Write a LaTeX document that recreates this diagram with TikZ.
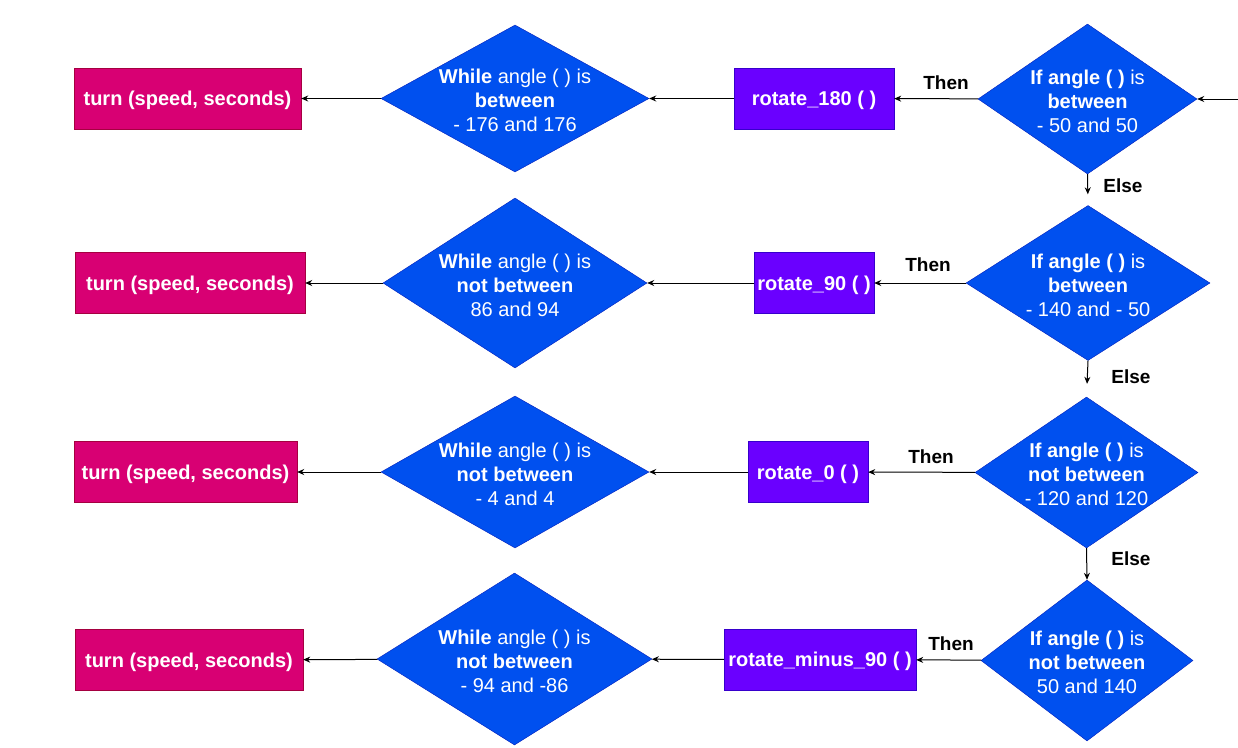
\documentclass[tikz,border=0pt]{standalone}
\usepackage{fontspec}
\setmainfont{Liberation Sans}
\usetikzlibrary{shapes.geometric,arrows.meta}
\definecolor{ifblue}{HTML}{0050EF}
\definecolor{ifline}{HTML}{001DBC}
\definecolor{rotpurple}{HTML}{6A00FF}
\definecolor{rotline}{HTML}{3700CC}
\definecolor{turnpink}{HTML}{D80073}
\definecolor{turnline}{HTML}{A50040}
\tikzset{
  condtext/.style={text=white,align=center,yshift=-2pt,font=\fontsize{20}{24}\selectfont},
  cond/.style={diamond,draw=ifline,fill=ifblue,inner sep=0pt,label={[condtext]center:{#1}}},
  rotbox/.style={rectangle,draw=rotline,fill=rotpurple,text=white,text height=18.5pt,text depth=4.2pt,
    font=\fontsize{20}{24}\selectfont\bfseries,minimum height=61pt},
  turnbox/.style={rectangle,draw=turnline,fill=turnpink,text=white,text height=18.5pt,text depth=4.2pt,
    font=\fontsize{20}{24}\selectfont\bfseries,minimum height=61pt},
  flow/.style={draw,line width=1pt,-{Stealth[length=7pt,width=6pt]}},
  tag/.style={font=\fontsize{19}{22}\selectfont\bfseries}
}
\begin{document}
\begin{tikzpicture}[x=1pt,y=-1pt]
    \useasboundingbox (0,0) rectangle (1238,747);
    % row 1
    \node[turnbox,minimum width=227pt](turn1) at (187.5,98.5){turn (speed, seconds)};
    \node[cond={\textbf{While} angle ( ) is\\\textbf{between}\\- 176 and 176},
      minimum width=268pt,minimum height=147pt](while1) at (515,98.5){};
    \node[rotbox,minimum width=160pt](rot1) at (814,98.5){rotate\_180 ( )};
    \node[cond={\textbf{If angle ( )} is\\\textbf{between}\\- 50 and 50},
      minimum width=219pt,minimum height=150pt](if1) at (1087.5,99){};
    % row 2
    \node[turnbox,minimum width=230pt](turn2) at (190,283){turn (speed, seconds)};
    \node[cond={\textbf{While} angle ( ) is\\\textbf{not between}\\86 and 94},
      minimum width=264pt,minimum height=170pt](while2) at (515,283){};
    \node[rotbox,minimum width=120pt](rot2) at (814,283){rotate\_90 ( )};
    \node[cond={\textbf{If angle ( )} is\\\textbf{between}\\- 140 and - 50},
      minimum width=244pt,minimum height=155pt](if2) at (1088,283){};
    % row 3
    \node[turnbox,minimum width=223pt](turn3) at (185.5,472){turn (speed, seconds)};
    \node[cond={\textbf{While} angle ( ) is\\\textbf{not between}\\- 4 and 4},
      minimum width=268pt,minimum height=152pt](while3) at (515,472){};
    \node[rotbox,minimum width=120pt](rot3) at (808,472){rotate\_0 ( )};
    \node[cond={\textbf{If angle ( )} is\\\textbf{not between}\\- 120 and 120},
      minimum width=223pt,minimum height=151pt](if3) at (1086.5,472.5){};
    % row 4
    \node[turnbox,minimum width=228pt](turn4) at (189,660){turn (speed, seconds)};
    \node[cond={\textbf{While} angle ( ) is\\\textbf{not between}\\- 94 and -86},
      minimum width=275pt,minimum height=172pt](while4) at (514.5,659){};
    \node[rotbox,minimum width=192pt](rot4) at (820,659.5){rotate\_minus\_90 ( )};
    \node[cond={\textbf{If angle ( )} is\\\textbf{not between}\\50 and 140},
      minimum width=212pt,minimum height=161pt](if4) at (1087,660.5){};
    \coordinate (start) at (1238,99);
    % connectors
    \draw[flow] (start) -- (if1);
    \draw[flow] (if1) -- (rot1);
    \draw[flow] (rot1) -- (while1);
    \draw[flow] (while1) -- (turn1);
    \draw[flow] (if2) -- (rot2);
    \draw[flow] (rot2) -- (while2);
    \draw[flow] (while2) -- (turn2);
    \draw[flow] (if3) -- (rot3);
    \draw[flow] (rot3) -- (while3);
    \draw[flow] (while3) -- (turn3);
    \draw[flow] (if4) -- (rot4);
    \draw[flow] (rot4) -- (while4);
    \draw[flow] (while4) -- (turn4);
    \draw[flow,shorten >=11pt] (if1.south) -- (if2.north);
    \draw[flow,shorten >=13pt] (if2.south) -- (if3.north);
    \draw[flow] (if3.south) -- (if4.north);
    % labels
    \node[tag](then1) at (946,83){Then};
    \node[tag](then2) at (928,265){Then};
    \node[tag](then3) at (931,457){Then};
    \node[tag](then4) at (951,644){Then};
    \node[tag](else1) at (1123,186){Else};
    \node[tag](else2) at (1131,377){Else};
    \node[tag](else3) at (1131,559){Else};
\end{tikzpicture}
\end{document}
